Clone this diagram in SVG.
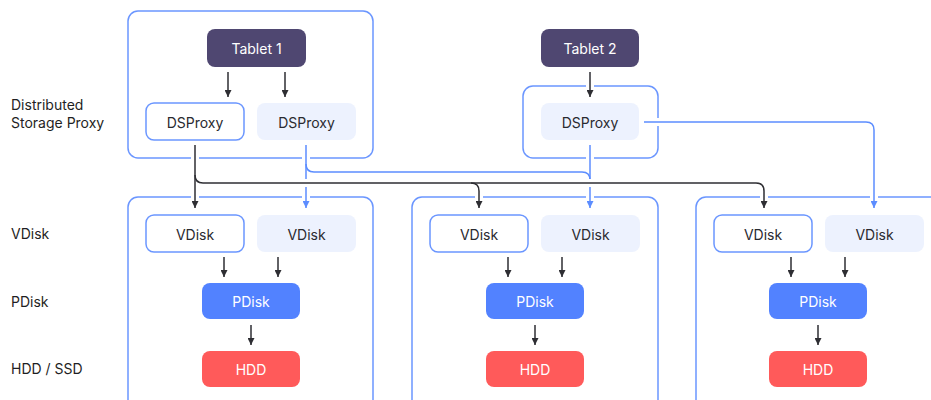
<svg xmlns="http://www.w3.org/2000/svg" width="931" height="400" viewBox="0 0 931 400">
<defs>
<style>
.t{font-family:Inter,"Noto Sans","Liberation Sans",sans-serif;font-size:14px;text-anchor:middle;dominant-baseline:central}
.lbl{font-family:Inter,"Noto Sans","Liberation Sans",sans-serif;font-size:14px;fill:#1f1f24}
.cont{fill:none;stroke:#6b96ff;stroke-width:1.5}
.tab{fill:#4f4771}
.tab-t{fill:#ffffff}
.wb{fill:#ffffff;stroke:#6b96ff;stroke-width:1.5}
.lb{fill:#edf2fe}
.dt{fill:#2a2a30}
.pd{fill:#5282ff}
.hd{fill:#ff5a5a}
.wt{fill:#ffffff}
.halo{fill:none;stroke:#ffffff;stroke-width:8}
.bk{fill:none;stroke:#2e2e33;stroke-width:1.5;marker-end:url(#ab)}
.bkn{fill:none;stroke:#2e2e33;stroke-width:1.5}
.bl{fill:none;stroke:#5c8dff;stroke-width:1.5;marker-end:url(#abl)}
.bln{fill:none;stroke:#5c8dff;stroke-width:1.5}
</style>
<marker id="ab" markerUnits="userSpaceOnUse" markerWidth="8" markerHeight="7" refX="7" refY="3.5" orient="auto">
<path d="M0,0 L7,3.5 L0,7 z" fill="#2e2e33"/>
</marker>
<marker id="abl" markerUnits="userSpaceOnUse" markerWidth="8" markerHeight="7" refX="7" refY="3.5" orient="auto">
<path d="M0,0 L7,3.5 L0,7 z" fill="#5c8dff"/>
</marker>
</defs>
<rect width="931" height="400" fill="#ffffff"/>

<g id="labels">
<text class="lbl" x="11" y="110">Distributed</text>
<text class="lbl" x="11" y="128">Storage Proxy</text>
<text class="lbl" x="11" y="239">VDisk</text>
<text class="lbl" x="11" y="307">PDisk</text>
<text class="lbl" x="11" y="374">HDD / SSD</text>
</g>

<g id="containers">
<rect id="proxy-group-1" class="cont" x="128" y="11" width="245" height="147" rx="10"/>
<rect id="proxy-group-2" class="cont" x="523" y="86" width="135" height="72" rx="10"/>
<rect id="node-group-1" class="cont" x="128" y="197" width="245" height="230" rx="10"/>
<rect id="node-group-2" class="cont" x="412" y="197" width="246" height="230" rx="10"/>
<rect id="node-group-3" class="cont" x="696" y="197" width="300" height="230" rx="10"/>
</g>

<g id="connectors">
<path class="halo" d="M590 72V97"/>
<path class="halo" d="M195 145V208M306 145V208M590 145V208M874 130V208"/>
<path class="halo" d="M306 164Q306 172 314 172H582Q590 172 590 180M644 122H866Q874 122 874 130"/>
<path class="bl" d="M306 145V208"/>
<path class="bln" d="M306 164Q306 172 314 172H582Q590 172 590 180"/>
<path class="bl" d="M590 145V208"/>
<path class="bl" d="M644 122H866Q874 122 874 130V208"/>
<path class="halo" d="M195 175Q195 183 203 183H756Q764 183 764 191V208M471 183Q479 183 479 191V208"/>
<path class="bk" d="M228 72V97"/>
<path class="bk" d="M285 72V97"/>
<path class="bk" d="M590 72V97"/>
<path class="bk" d="M195 145V208"/>
<path class="bk" d="M195 175Q195 183 203 183H471Q479 183 479 191V208"/>
<path class="bk" d="M471 183H756Q764 183 764 191V208"/>
<path class="bk" d="M224 257V277"/>
<path class="bk" d="M278 257V277"/>
<path class="bk" d="M251 325V345"/>
<path class="bk" d="M508 257V277"/>
<path class="bk" d="M562 257V277"/>
<path class="bk" d="M535 325V345"/>
<path class="bk" d="M791 257V277"/>
<path class="bk" d="M845 257V277"/>
<path class="bk" d="M818 325V345"/>
</g>

<g id="tablet1"><rect class="tab" x="207" y="29" width="99" height="38" rx="8"/><text class="t tab-t" x="256.5" y="48">Tablet 1</text></g>
<g id="tablet2"><rect class="tab" x="541" y="29" width="98" height="38" rx="8"/><text class="t tab-t" x="590" y="48">Tablet 2</text></g>

<g id="dsproxy1"><rect class="wb" x="146" y="103" width="98" height="37" rx="8"/><text class="t dt" x="195" y="122">DSProxy</text></g>
<g id="dsproxy2"><rect class="lb" x="257" y="103" width="99" height="37" rx="8"/><text class="t dt" x="306.5" y="122">DSProxy</text></g>
<g id="dsproxy3"><rect class="lb" x="541" y="103" width="98" height="37" rx="8"/><text class="t dt" x="590" y="122">DSProxy</text></g>

<g id="vdisk-1a"><rect class="wb" x="146" y="215" width="98" height="37" rx="8"/><text class="t dt" x="195" y="234">VDisk</text></g>
<g id="vdisk-1b"><rect class="lb" x="257" y="215" width="99" height="37" rx="8"/><text class="t dt" x="306.5" y="234">VDisk</text></g>
<g id="pdisk-1"><rect class="pd" x="202" y="283" width="98" height="36" rx="8"/><text class="t wt" x="251" y="301">PDisk</text></g>
<g id="hdd-1"><rect class="hd" x="202" y="351" width="98" height="36" rx="8"/><text class="t wt" x="251" y="369">HDD</text></g>

<g id="vdisk-2a"><rect class="wb" x="430" y="215" width="98" height="37" rx="8"/><text class="t dt" x="479" y="234">VDisk</text></g>
<g id="vdisk-2b"><rect class="lb" x="541" y="215" width="99" height="37" rx="8"/><text class="t dt" x="590.5" y="234">VDisk</text></g>
<g id="pdisk-2"><rect class="pd" x="486" y="283" width="98" height="36" rx="8"/><text class="t wt" x="535" y="301">PDisk</text></g>
<g id="hdd-2"><rect class="hd" x="486" y="351" width="98" height="36" rx="8"/><text class="t wt" x="535" y="369">HDD</text></g>

<g id="vdisk-3a"><rect class="wb" x="714" y="215" width="98" height="37" rx="8"/><text class="t dt" x="763" y="234">VDisk</text></g>
<g id="vdisk-3b"><rect class="lb" x="825" y="215" width="99" height="37" rx="8"/><text class="t dt" x="874.5" y="234">VDisk</text></g>
<g id="pdisk-3"><rect class="pd" x="769" y="283" width="98" height="36" rx="8"/><text class="t wt" x="818" y="301">PDisk</text></g>
<g id="hdd-3"><rect class="hd" x="769" y="351" width="98" height="36" rx="8"/><text class="t wt" x="818" y="369">HDD</text></g>
</svg>
